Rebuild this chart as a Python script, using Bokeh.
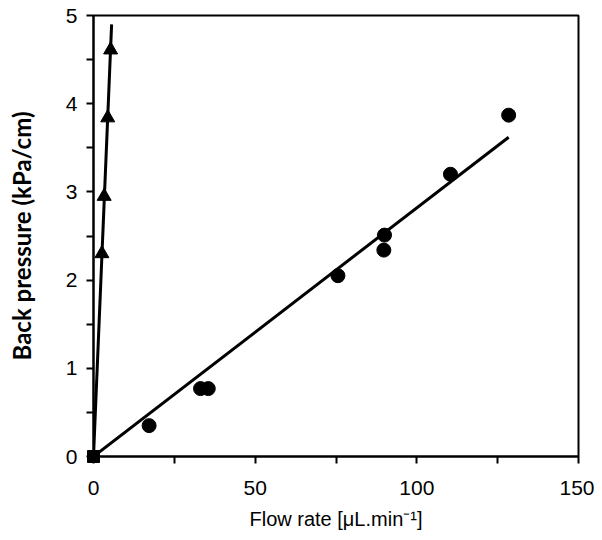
from bokeh.plotting import figure
from bokeh.embed import file_html
from bokeh.resources import INLINE
from bokeh.models import Range1d, FixedTicker

# Data
circ_x = [17.2, 33.1, 35.5, 75.6, 89.8, 90.0, 110.4, 128.4]
circ_y = [0.35, 0.77, 0.77, 2.05, 2.34, 2.51, 3.20, 3.87]
tri_x = [2.6, 3.3, 4.4, 5.3]
tri_y = [2.30, 2.95, 3.84, 4.61]
fit_circ_x = [0, 128.4]
fit_circ_y = [0, 3.62]
fit_tri_x = [0, 5.6]
fit_tri_y = [0, 4.90]
origin_x = [0]
origin_y = [0]
x_ticks = [0, 50, 100, 150]
y_ticks = [0, 1, 2, 3, 4, 5]

p = figure(width=594, height=532, output_backend="svg", toolbar_location=None,
           x_range=Range1d(0, 150), y_range=Range1d(0, 5),
           min_border_left=93, min_border_right=16, min_border_top=15, min_border_bottom=75)
p.xgrid.visible = False
p.ygrid.visible = False
p.outline_line_color = "black"
p.outline_line_width = 2
p.background_fill_color = "white"
p.border_fill_color = "white"

p.line(fit_circ_x, fit_circ_y, line_color="black", line_width=3)
p.line(fit_tri_x, fit_tri_y, line_color="black", line_width=3)
p.scatter(circ_x, circ_y, marker="circle", size=14, fill_color="black", line_color="black")
p.scatter(tri_x, tri_y, marker="triangle", size=14, fill_color="black", line_color="black")
sq = p.scatter(origin_x, origin_y, marker="square", size=12, fill_color="black", line_color="black")
sq.level = "overlay"

for ax, ticks in ((p.xaxis[0], x_ticks), (p.yaxis[0], y_ticks)):
    ax.ticker = FixedTicker(ticks=ticks, minor_ticks=[t + (ticks[1] - ticks[0]) / 2 for t in ticks[:-1]])
    ax.axis_line_width = 2
    ax.axis_line_color = "black"
    ax.major_tick_line_width = 2
    ax.minor_tick_line_width = 2
    ax.major_tick_in = 0
    ax.major_tick_out = 7
    ax.minor_tick_in = 0
    ax.minor_tick_out = 7
    ax.major_label_text_font = "Liberation Sans"
    ax.major_label_text_font_size = "21px"
    ax.major_label_text_color = "black"

p.xaxis.major_label_standoff = 17
p.yaxis.major_label_standoff = 9
p.xaxis.axis_label = "Flow rate [\u03bcL.min\u207b\u00b9]"
p.xaxis.axis_label_text_font = "Liberation Sans"
p.xaxis.axis_label_text_font_size = "20px"
p.xaxis.axis_label_text_font_style = "normal"
p.xaxis.axis_label_text_color = "black"
p.xaxis.axis_label_standoff = 10

p.yaxis.axis_label = "Back pressure (kPa/cm)"
p.yaxis.axis_label_text_font = "Lato"
p.yaxis.axis_label_text_font_size = "24px"
p.yaxis.axis_label_text_font_style = "bold"
p.yaxis.axis_label_text_color = "black"
p.yaxis.axis_label_standoff = 27

open("out.html", "w").write(file_html(p, INLINE))
